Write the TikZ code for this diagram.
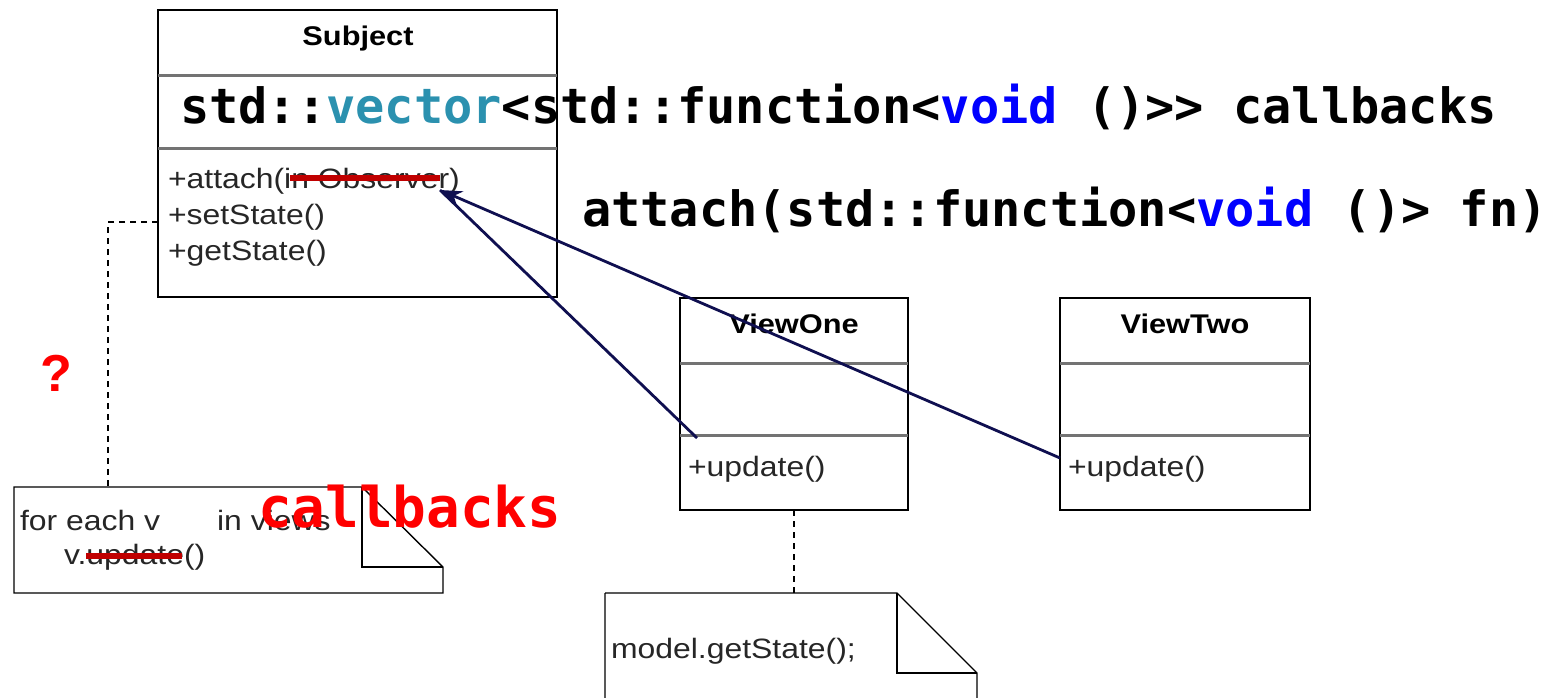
\documentclass[tikz,border=0pt]{standalone}
\usepackage{fontspec}
\setmainfont{Liberation Sans}
\newfontfamily\codefont{DejaVu Sans Mono}
\usetikzlibrary{arrows.meta, positioning}
\definecolor{LinkNavy}{RGB}{15, 15, 80}
\definecolor{StrikeRed}{RGB}{192, 0, 0}
\definecolor{TypeTeal}{RGB}{43, 145, 175}
\definecolor{KeyBlue}{RGB}{0, 0, 255}
\definecolor{NoteRed}{RGB}{255, 0, 0}
\newcommand{\umlwide}[1]{\scalebox{1.14}[1]{#1}}

\begin{document}
\begin{tikzpicture}[
    x=1pt, y=-1pt,
    every node/.style={inner sep=0pt, outer sep=0pt},
    classbox/.style={draw, line width=1.6pt, anchor=north west},
    classname/.style={anchor=base, font=\fontsize{27}{32}\selectfont\bfseries},
    member/.style={anchor=base west, font=\fontsize{28}{32}\selectfont, text=black!85},
    divider/.style={draw=black!55, line width=3pt},
    noteline/.style={draw, line width=1.4pt},
    link/.style={draw, dashed, line width=1.4pt, dash pattern=on 6pt off 5pt},
    code/.style={anchor=base west, font=\codefont\fontsize{48.6}{54}\selectfont\bfseries},
    strike/.style={draw=StrikeRed, line width=6pt},
    callback/.style={draw=LinkNavy, line width=2.8pt}
]
\clip (0,0) rectangle (1549,697);

% Subject class
\node[classbox, minimum width=399pt, minimum height=287pt] (subject) at (158,10) {};
\node[classname] (subjname) at (358,45) {\umlwide{Subject}};
\draw[divider] (158,75) -- (557,75);
\draw[divider] (158,148) -- (557,148);
\node[member] (attach) at (168,188) {\umlwide{+attach(in Observer)}};
\node[member] (setstate) at (168,224) {\umlwide{+setState()}};
\node[member] (getstate) at (168,260) {\umlwide{+getState()}};
\draw[strike] (290,178) -- (440,178);
\coordinate (attachtip) at (440,190);

% views
\node[classbox, minimum width=228pt, minimum height=212pt] (viewone) at (680,298) {};
\node[classname] at (794,333) {\umlwide{ViewOne}};
\draw[divider] (680,363) -- (908,363);
\draw[divider] (680,435) -- (908,435);
\node[member] (updone) at (688,476) {\umlwide{+update()}};

\node[classbox, minimum width=250pt, minimum height=212pt] (viewtwo) at (1060,298) {};
\node[classname] at (1185,333) {\umlwide{ViewTwo}};
\draw[divider] (1060,363) -- (1310,363);
\draw[divider] (1060,435) -- (1310,435);
\node[member] (updtwo) at (1068,476) {\umlwide{+update()}};

% notes
\coordinate (noteone) at (14,487);
\draw[noteline] (noteone) -- (362,487) -- (443,567) -- (443,593) -- (14,593) -- cycle;
\draw[noteline] (362,487) -- (362,567) -- (443,567);
\node[member] (foreach) at (20,530) {\umlwide{for each v\hspace{50pt}in views}};
\node[member] (vupdate) at (64,564) {\umlwide{v.update()}};
\draw[strike] (86,556) -- (182,556);

\coordinate (notetwo) at (605,593);
\draw[noteline] (notetwo) -- (897,593) -- (977,673) -- (977,710) (605,710) -- (notetwo);
\draw[noteline] (897,593) -- (897,673) -- (977,673);
\node[member] (getmodel) at (611,658) {\umlwide{model.getState();}};

% note links
\draw[link] (subject.west |- 0,222) -- (108,222) -- (108,487);
\draw[link] (viewone.south) -- (viewone.south |- notetwo);

% callback arrows
\draw[callback] (697,438) -- (attachtip);
\draw[callback, -{Stealth[length=22pt, width=16pt]}] (1060,458) -- (attachtip);

% overlay code
\node[code] (vecline) at (180,123) {std::\textcolor{TypeTeal}{vector}<std::function<\textcolor{KeyBlue}{void} ()>> callbacks};
\node[code] (fnline) at (582,226) {attach(std::function<\textcolor{KeyBlue}{void} ()> fn)};
\node[code, text=NoteRed, font=\codefont\fontsize{56}{60}\selectfont\bfseries] (cbnote) at (258,527) {callbacks};
\node[anchor=base, text=NoteRed, font=\fontsize{52}{56}\selectfont\bfseries] (qmark) at (56,391) {?};
\end{tikzpicture}
\end{document}
